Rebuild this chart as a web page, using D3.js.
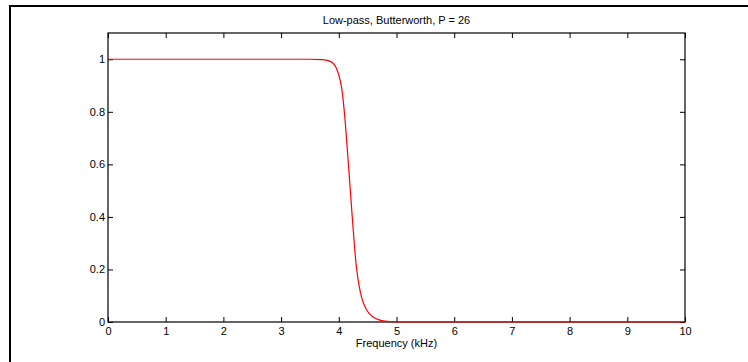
<!DOCTYPE html>
<html>
<head>
<meta charset="utf-8">
<script src="https://cdn.jsdelivr.net/npm/d3@7"></script>
<style>
  body { margin: 0; background: #fff; }
  svg { display: block; font-family: "Liberation Sans", Arial, sans-serif; }
</style>
</head>
<body>
<svg id="chart" width="748" height="362"></svg>
<script>
// frequency (kHz) and magnitude
var freq = [0, 1, 2, 3, 3.5, 3.7, 3.8, 3.9, 3.95, 4.0, 4.05, 4.1, 4.15, 4.2, 4.25, 4.3, 4.35, 4.4, 4.45, 4.5, 4.55, 4.6, 4.7, 4.8, 4.9, 5.0, 6, 7, 8, 9, 10];
var mag  = [1, 1, 1, 1, 1, 0.999, 0.996, 0.985, 0.97, 0.94, 0.89, 0.79, 0.65, 0.50, 0.35, 0.22, 0.14, 0.09, 0.06, 0.04, 0.027, 0.018, 0.008, 0.003, 0.001, 0, 0, 0, 0, 0, 0];

var xTicks = [0, 1, 2, 3, 4, 5, 6, 7, 8, 9, 10];
var yTicks = [0, 0.2, 0.4, 0.6, 0.8, 1];
var yTickLabels = ["0", "0.2", "0.4", "0.6", "0.8", "1"];

var title = "Low-pass, Butterworth, P = 26";
var xLabel = "Frequency (kHz)";

var svg = d3.select("#chart");
var pLeft = 108, pRight = 685, pTop = 33, pBottom = 322;

// outer frame
svg.append("rect")
    .attr("x", 10).attr("y", 6)
    .attr("width", 800).attr("height", 400)
    .attr("fill", "none")
    .attr("stroke", "#000")
    .attr("stroke-width", 2);

var x = d3.scaleLinear().domain([0, 10]).range([pLeft, pRight]);
var y = d3.scaleLinear().domain([0, 1.1]).range([pBottom, pTop]);

var fs = "11px";

svg.append("g")
    .attr("transform", "translate(0," + pBottom + ")")
    .call(d3.axisBottom(x).tickValues(xTicks).tickSize(-5).tickPadding(5).tickFormat(d3.format("d")))
    .call(function(g) { g.select(".domain").remove(); });

svg.append("g")
    .attr("transform", "translate(0," + pTop + ")")
    .call(d3.axisTop(x).tickValues(xTicks).tickSize(-5).tickFormat(""))
    .call(function(g) { g.select(".domain").remove(); });

svg.append("g")
    .attr("transform", "translate(" + pLeft + ",0)")
    .call(d3.axisLeft(y).tickValues(yTicks).tickSize(-5).tickPadding(3)
        .tickFormat(function(d, i) { return yTickLabels[i]; }))
    .call(function(g) { g.select(".domain").remove(); });

svg.append("g")
    .attr("transform", "translate(" + pRight + ",0)")
    .call(d3.axisRight(y).tickValues(yTicks).tickSize(-5).tickFormat(""))
    .call(function(g) { g.select(".domain").remove(); });

svg.selectAll(".tick text")
    .attr("font-family", "Liberation Sans, Arial, sans-serif")
    .attr("font-size", fs)
    .attr("fill", "#000");
svg.selectAll(".tick line").attr("stroke", "#000");

// plot box
svg.append("rect")
    .attr("x", pLeft).attr("y", pTop)
    .attr("width", pRight - pLeft).attr("height", pBottom - pTop)
    .attr("fill", "none")
    .attr("stroke", "#000")
    .attr("stroke-width", 1.2);

var line = d3.line()
    .x(function(d, i) { return x(freq[i]); })
    .y(function(d) { return y(d); })
    .curve(d3.curveMonotoneX);

svg.append("path")
    .datum(mag)
    .attr("d", line)
    .attr("fill", "none")
    .attr("stroke", "#ff0000")
    .attr("stroke-width", 1.2);

svg.append("text")
    .attr("x", (pLeft + pRight) / 2)
    .attr("y", 24)
    .attr("text-anchor", "middle")
    .attr("font-size", fs)
    .text(title);

svg.append("text")
    .attr("x", (pLeft + pRight) / 2)
    .attr("y", 347)
    .attr("text-anchor", "middle")
    .attr("font-size", fs)
    .text(xLabel);
</script>
</body>
</html>
